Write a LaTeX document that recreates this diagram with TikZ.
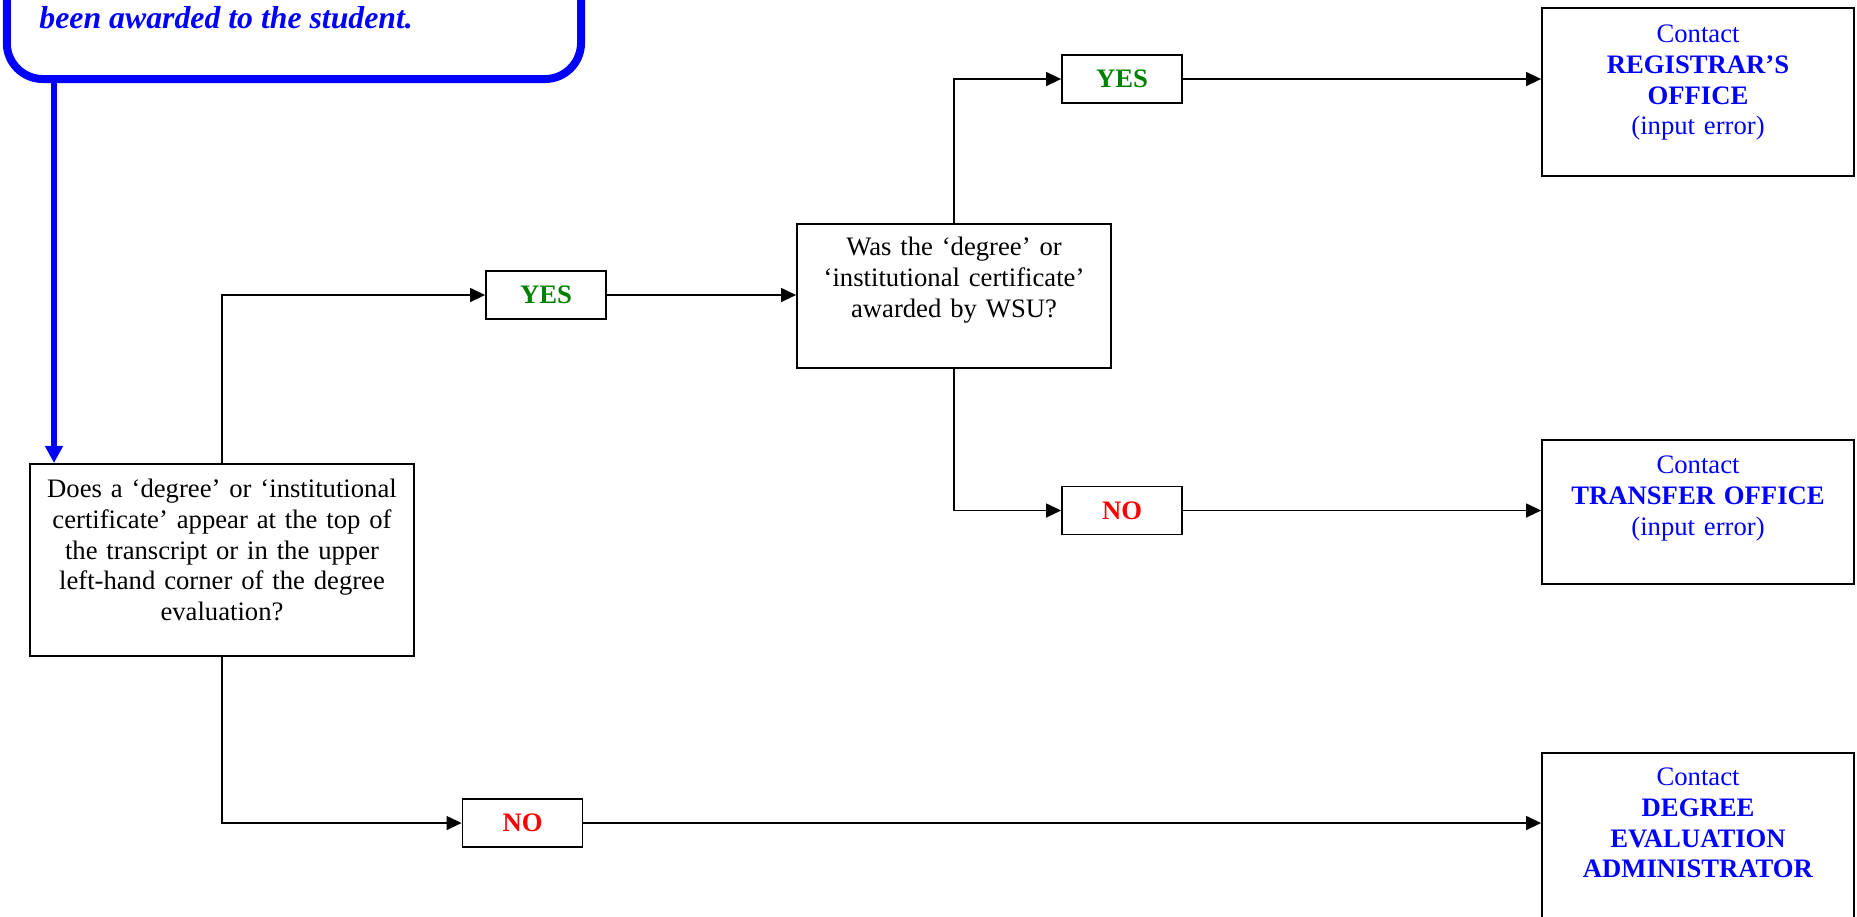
\documentclass[tikz,border=0pt]{standalone}
\usepackage{fontspec}
\setmainfont{Liberation Serif}
\usepackage{tikz}
\usetikzlibrary{arrows.meta}
\definecolor{yesgreen}{RGB}{0,128,0}

\begin{document}
\begin{tikzpicture}[x=0.45pt,y=-0.45pt,
  every node/.style={font=\fontsize{12}{13.8}\selectfont},
  question/.style={draw,line width=0.8pt,inner sep=0pt,align=center,anchor=north},
  office/.style={question,text=blue,text width=140.4pt},
  answer/.style={draw,line width=0.8pt,inner sep=0pt,minimum width=54pt,minimum height=21.6pt,
    font=\fontsize{12}{13.8}\selectfont\bfseries},
  introbox/.style={draw=blue,line width=3.6pt,rounded corners=16.2pt,outer sep=0pt,
    minimum width=258.4pt,minimum height=90pt,anchor=south},
  flow/.style={line width=0.75pt,-{Triangle[length=6.8pt,width=6.3pt]}},
  blueflow/.style={draw=blue,line width=2.8pt,-{Triangle[length=7.7pt,width=7.7pt]},blue}]

\useasboundingbox (0,0) rectangle (1857,916);
\clip (0,0) rectangle (1857,916);

\node[introbox] (intro) at (293.9,79) {};
\node[anchor=base west,inner sep=0pt,text=blue,font=\fontsize{14.3}{16}\selectfont\bfseries\itshape]
  (award) at (39,28.5) {been awarded to the student.};
\coordinate (introbot) at (54,79);

\node[question,text width=172.8pt,text height=15.3pt,text depth=71.1pt] (q1) at (222,463)
  {Does a `degree' or `institutional\\ certificate' appear at the top of\\ the transcript or in the upper\\
   left-hand corner of the degree\\ evaluation?};
\node[question,text width=141.3pt,text height=14.4pt,text depth=50.4pt] (q2) at (954,223)
  {Was the `degree' or\\ `institutional certificate'\\ awarded by WSU?};

\node[answer,text=yesgreen] (yes1) at (546,295) {YES};
\node[answer,text=yesgreen] (yes2) at (1122,79) {YES};
\node[answer,text=red] (no1) at (1122,510.5) {NO};
\node[answer,text=red] (no2) at (522.5,823) {NO};

\node[office,text height=15.75pt,text depth=59.85pt] (reg) at (1698,7)
  {Contact\\ \textbf{REGISTRAR'S}\\ \textbf{OFFICE}\\ (input error)};
\node[office,text height=15.3pt,text depth=49.5pt] (tra) at (1698,439)
  {Contact\\ \textbf{TRANSFER OFFICE}\\ (input error)};
\node[office,text height=14.85pt,text depth=69.75pt] (deg) at (1698,752)
  {Contact\\ \textbf{DEGREE}\\ \textbf{EVALUATION}\\ \textbf{ADMINISTRATOR}};

\draw[blueflow] (introbot) -- (introbot |- q1.north);

\draw[flow] (q1.north) |- (yes1.west);
\draw[flow] (yes1.east) -- (yes1.east -| q2.west);
\draw[flow] (q2.north) |- (yes2.west);
\draw[flow] (yes2.east) -- (yes2.east -| reg.west);
\draw[flow] (q2.south) |- (no1.west);
\draw[flow] (no1.east) -- (no1.east -| tra.west);
\draw[flow] (q1.south) |- (no2.west);
\draw[flow] (no2.east) -- (no2.east -| deg.west);
\end{tikzpicture}
\end{document}
